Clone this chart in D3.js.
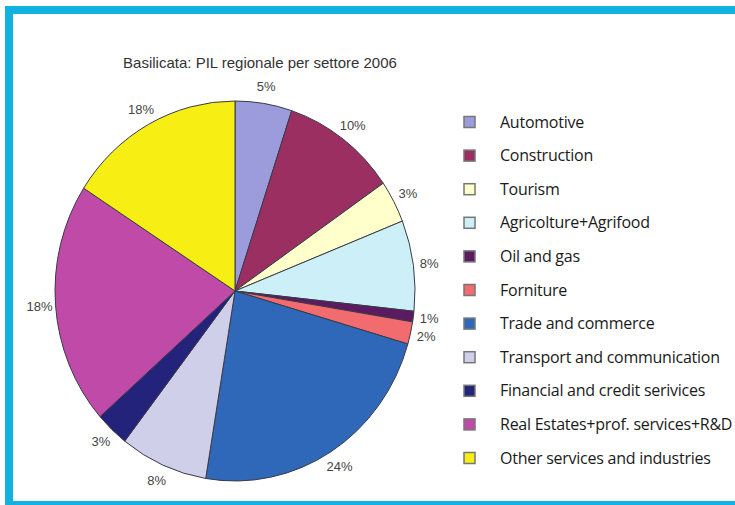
<!DOCTYPE html>
<html>
<head>
<meta charset="utf-8">
<script src="https://cdn.jsdelivr.net/npm/d3@7"></script>
<style>
  html, body { margin: 0; padding: 0; background: #fff; }
  svg { display: block; }
</style>
</head>
<body>
<svg id="chart" width="735" height="505"></svg>
<script>
// sectors, in pie order (clockwise from 12 o'clock)
var sectors = ["Automotive", "Construction", "Tourism", "Agricolture+Agrifood", "Oil and gas",
  "Forniture", "Trade and commerce", "Transport and communication",
  "Financial and credit serivices", "Real Estates+prof. services+R&D", "Other services and industries"];
// slice shares as measured on the picture
var shares = [5.1, 10.3, 3.6, 7.7, 0.9, 1.9, 23.1, 7.9, 3.0, 20.6, 15.9];
// percentages printed next to the slices
var pctLabels = ["5%", "10%", "3%", "8%", "1%", "2%", "24%", "8%", "3%", "18%", "18%"];
var colors = ["#9c9cdc", "#9b2f62", "#ffffcc", "#cdeff7", "#5c1a60", "#f26b6e",
  "#2f68b8", "#cfcfea", "#23237c", "#c04aa8", "#f7ef14"];

var svg = d3.select("#chart");

// cyan frame
svg.append("rect").attr("x", 5).attr("y", 6).attr("width", 730).attr("height", 8).attr("fill", "#12b2e0");
svg.append("rect").attr("x", 5).attr("y", 6).attr("width", 8).attr("height", 499).attr("fill", "#12b2e0");
svg.append("rect").attr("x", 5).attr("y", 501).attr("width", 730).attr("height", 4).attr("fill", "#12b2e0");

// title
svg.append("text")
  .attr("x", 260).attr("y", 68)
  .attr("text-anchor", "middle")
  .attr("font-family", "Liberation Sans, Arial, sans-serif")
  .attr("font-size", "15px")
  .attr("fill", "#333")
  .text("Basilicata: PIL regionale per settore 2006");

// pie (slightly taller than wide)
var cx = 235, cy = 291, rx = 180, ry = 190, sy = ry / rx;
var pie = d3.pie().sort(null).value(function (d) { return d; });
var arcs = pie(shares);
var arc = d3.arc().innerRadius(0).outerRadius(rx);

var g = svg.append("g").attr("transform", "translate(" + cx + "," + cy + ") scale(1," + sy + ")");
g.selectAll("path")
  .data(arcs)
  .enter()
  .append("path")
  .attr("d", arc)
  .attr("fill", function (d, i) { return colors[i]; })
  .attr("stroke", "#3a3a48")
  .attr("stroke-width", 1)
  .attr("vector-effect", "non-scaling-stroke");

// percent labels
var labelArc = d3.arc().innerRadius(196).outerRadius(196);
svg.selectAll("text.pct")
  .data(arcs)
  .enter()
  .append("text")
  .attr("class", "pct")
  .attr("x", function (d) { return cx + labelArc.centroid(d)[0]; })
  .attr("y", function (d) { return cy + labelArc.centroid(d)[1] * sy; })
  .attr("dy", "0.35em")
  .attr("text-anchor", "middle")
  .attr("font-family", "Liberation Sans, Arial, sans-serif")
  .attr("font-size", "13px")
  .attr("fill", "#444")
  .text(function (d, i) { return pctLabels[i]; });

// legend
var ly = d3.scalePoint().domain(sectors).range([122, 458]);
var leg = svg.selectAll("g.leg")
  .data(sectors)
  .enter()
  .append("g")
  .attr("class", "leg")
  .attr("transform", function (d) { return "translate(0," + ly(d) + ")"; });
leg.append("rect")
  .attr("x", 464).attr("y", -5.5)
  .attr("width", 11).attr("height", 11)
  .attr("fill", function (d, i) { return colors[i]; })
  .attr("stroke", "#777")
  .attr("stroke-width", 1.5);
leg.append("text")
  .attr("x", 500).attr("y", 0)
  .attr("dy", "0.35em")
  .attr("font-family", "Open Sans, sans-serif")
  .attr("font-size", "16px")
  .attr("letter-spacing", "-0.25px")
  .attr("fill", "#1a1a1a")
  .text(function (d) { return d; });
</script>
</body>
</html>
